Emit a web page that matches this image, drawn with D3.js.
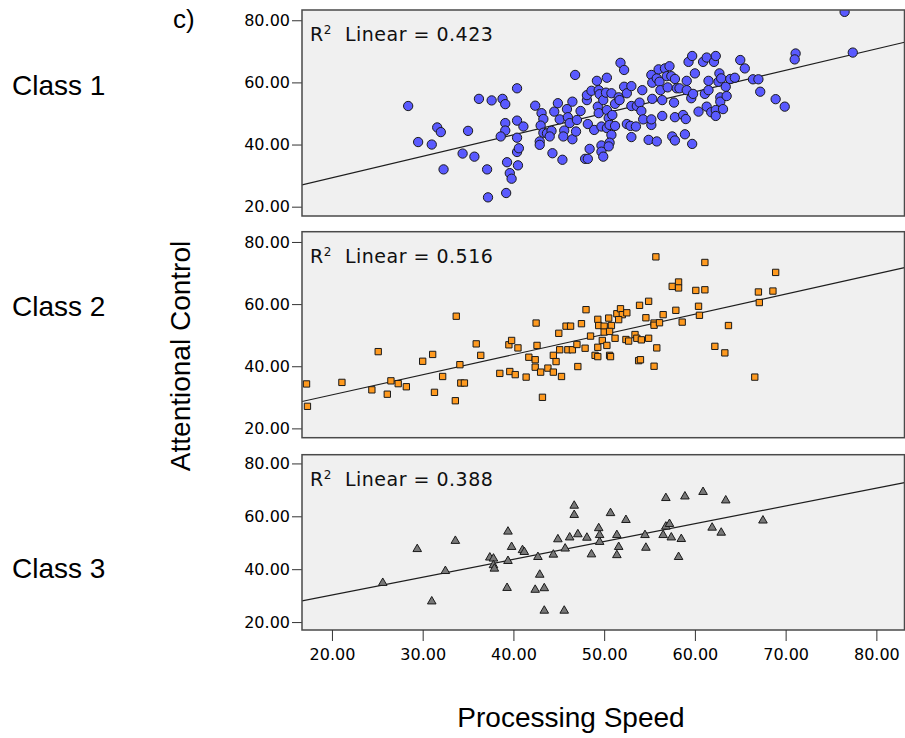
<!DOCTYPE html>
<html>
<head>
<meta charset="utf-8">
<script src="https://cdnjs.cloudflare.com/ajax/libs/d3/7.8.5/d3.min.js"></script>
<style>
	body { margin: 0; background: #fff; }
	svg { display: block; }
	.tick text { font-family: 'DejaVu Sans', sans-serif; font-size: 16px; fill: #000; }
	.tick line { stroke: #333; }
	.title { font-family: 'Liberation Sans', Arial, sans-serif; font-size: 28px; fill: #000; }
	.fit-label { font-family: 'DejaVu Sans', sans-serif; font-size: 19px; fill: #111; white-space: pre; letter-spacing: 0.5px; }
</style>
</head>
<body>
<svg id="chart" width="905" height="738"></svg>
<script>
// [processing speed, attentional control] per case
var class1 = [
	[28.4,52.4],[29.5,40.8],[31.0,40.0],[31.6,45.5],[32.0,44.0],[32.3,32.0],[35.0,44.4],[34.4,37.1],
	[35.7,36.1],[36.2,54.7],[37.1,32.0],[37.2,23.0],[37.6,54.2],[38.8,54.7],[39.1,53.0],[39.1,46.9],
	[39.1,44.5],[38.6,42.6],[39.3,34.3],[39.6,30.8],[39.8,29.0],[39.2,24.4],[40.4,58.1],[40.4,47.7],
	[40.4,42.2],[40.4,37.6],[40.5,33.3],[40.6,38.8],[41.1,45.8],
	[42.4,52.5],[43.1,50.1],[43.3,48.2],[43.0,46.1],[43.3,43.8],[42.9,41.0],[42.9,39.9],[43.7,43.6],
	[44.2,44.4],[44.0,42.6],[44.3,37.2],[45.4,35.1],[44.5,50.6],[44.9,53.3],[45.1,48.1],[45.6,44.5],
	[45.5,42.6],[45.9,51.4],[46.0,48.8],[46.2,46.9],[46.5,53.8],[46.5,41.7],[46.9,44.2],[46.8,62.4],
	[47.4,50.8],[47.0,47.9],[47.9,35.4],[48.2,35.4],[48.2,46.6],[48.1,54.3],[48.1,55.9],[48.4,38.6],
	[48.6,57.3],[48.9,44.7],[49.2,60.5],[49.4,57.5],[49.3,52.2],[49.4,50.1],[49.5,56.2],[49.7,39.7],
	[49.7,37.7],[49.9,36.1],[49.7,45.8],[49.9,54.3],[50.3,61.5],[50.2,56.7],[50.3,51.1],[50.5,48.5],
	[50.3,45.3],[50.6,46.3],[50.8,43.1],[50.6,40.6],[50.5,39.4],[50.8,56.5],[50.9,49.5],[51.2,46.0],
	[51.2,53.1],[51.6,55.2],[51.7,54.3],[51.8,66.3],[52.2,64.0],[52.2,58.6],[52.5,56.5],[53.0,58.8],
	[52.5,46.6],[52.9,46.0],[53.0,42.4],[53.0,52.4],[53.5,45.8],[53.6,52.4],[53.9,53.5],[54.2,57.5],
	[54.1,50.8],[54.3,48.1],[54.9,41.5],[55.2,46.3],[55.2,48.1],[55.3,54.7],[55.2,62.4],[55.3,59.9],
	[55.8,41.0],[55.8,61.3],[56.0,64.2],[56.1,60.2],[56.2,57.5],[56.4,54.3],[56.4,49.2],[56.7,64.5],
	[56.9,62.0],[57.0,58.4],[57.2,65.2],[57.4,62.0],[57.5,42.6],[57.8,41.3],[57.7,53.5],[57.8,48.8],
	[57.8,61.1],[58.0,58.1],[58.3,58.1],[58.7,49.5],[59.0,48.2],[58.9,43.3],[59.1,60.5],[59.1,57.5],
	[59.3,66.6],[59.7,68.5],[59.7,40.2],[59.6,54.9],[59.8,56.3],[60.0,62.9],[60.4,50.6],
	[60.9,66.6],[61.3,68.0],[62.1,66.6],[62.3,68.5],[61.5,60.5],[61.1,56.3],[61.5,57.5],[61.3,52.2],
	[61.8,50.4],[62.3,51.1],[62.3,49.2],[62.6,60.2],[62.7,62.9],[62.9,61.3],[62.8,55.2],[62.8,53.8],
	[63.1,51.4],[63.4,58.6],[63.5,55.6],[63.9,61.1],[64.4,61.5],[65.0,67.2],[65.5,64.5],[66.4,61.0],
	[67.0,61.0],[67.2,57.0],[68.9,54.6],[69.9,52.2],[71.1,69.3],[71.0,67.4],[76.5,82.7],[77.4,69.6]
];
var class2 = [
	[17.2,34.3],[17.3,27.1],[21.1,34.8],[24.4,32.4],[25.1,44.7],[26.1,31.0],[26.5,35.3],[27.3,34.4],
	[28.2,33.4],[30.0,41.6],[31.1,43.8],[31.3,31.6],[32.2,36.7],[33.6,28.9],[33.7,56.1],[34.1,40.5],
	[34.2,34.6],[34.6,34.6],[35.9,47.2],[36.4,43.5],[38.5,37.7],[39.5,46.9],[39.8,48.3],[40.5,45.9],
	[39.6,38.3],[40.2,37.3],[41.4,36.5],[41.7,42.9],[42.4,42.1],[42.5,53.9],[42.6,46.7],[42.4,39.7],
	[43.0,38.1],[43.2,30.0],[43.8,39.4],[44.4,38.1],[44.4,43.5],[44.7,41.5],[45.0,50.6],[45.1,45.3],
	[45.3,36.7],[45.8,52.9],[46.3,52.9],[46.0,45.3],[46.5,45.3],[47.0,47.0],[47.1,39.9],[47.5,53.7],
	[48.0,58.2],[47.9,45.8],[48.5,49.7],[49.0,43.5],[49.3,55.1],[49.4,53.1],[49.3,46.1],[49.3,43.1],
	[50.0,52.9],[50.5,55.5],[50.8,53.1],[50.0,51.0],[50.6,51.2],[49.8,48.3],[51.2,49.0],[50.3,46.7],
	[50.6,43.5],[50.7,43.1],[51.4,56.9],[51.8,58.5],[52.0,56.6],[52.5,57.2],[51.6,55.0],[52.4,48.6],
	[52.7,48.1],[53.4,50.2],[53.6,49.0],[54.1,48.5],[54.9,49.0],[53.8,41.8],[54.0,42.1],[53.9,59.6],
	[54.9,60.9],[54.6,55.6],[55.5,53.9],[55.5,53.2],[56.1,54.0],[56.5,56.6],[55.8,45.9],[55.5,40.0],
	[55.7,75.2],[57.5,65.7],[58.2,67.1],[58.2,65.2],[57.9,58.0],[58.6,54.2],[60.1,64.4],[61.1,64.6],
	[61.1,73.4],[60.4,59.3],[60.5,56.4],[63.7,53.1],[62.2,46.4],[63.3,44.3],[66.6,36.5],[67.0,63.9],
	[67.1,60.5],[68.6,64.2],[68.9,70.2]
];
var class3 = [
	[25.6,34.8],[29.4,47.6],[31.0,27.8],[32.5,39.3],[33.6,50.7],[37.4,44.4],[37.8,44.0],[37.8,41.5],
	[37.9,40.2],[39.3,32.9],[39.4,54.2],[39.4,43.1],[39.8,48.4],[41.0,47.2],[41.2,46.5],[42.7,44.6],
	[42.9,37.9],[42.4,32.2],[43.4,32.8],[43.4,24.3],[44.4,45.5],[44.9,51.3],[45.6,24.3],[45.7,47.8],
	[46.2,52.0],[46.7,64.0],[46.7,60.5],[47.1,53.2],[48.1,51.9],[48.6,45.6],[49.4,55.5],[49.5,52.9],
	[49.5,50.3],[50.7,61.2],[51.4,52.9],[51.6,48.4],[51.4,45.3],[52.4,58.6],[54.5,52.9],[54.6,48.1],
	[56.5,52.9],[56.8,66.9],[56.8,56.1],[57.2,57.1],[57.4,52.0],[58.5,51.4],[58.2,44.6],[58.9,67.5],
	[60.9,69.2],[61.9,55.7],[62.9,53.8],[63.4,66.0],[67.5,58.4]
];

var classNames = ['Class 1', 'Class 2', 'Class 3'];
var rSquared = ['0.423', '0.516', '0.388'];
// fit lines as seen on the chart: [intercept, slope]
var fitLines = [[15.5, 0.691], [17.8, 0.649], [16.8, 0.673]];
var xTicks = [20, 30, 40, 50, 60, 70, 80];
var yTicks = [20, 40, 60, 80];
var xDomain = [16.7, 83.1];
var yDomain = [17, 83.3];

const ScatterPanels = {
	left: 302,
	right: 904.5,
	panels: [
		{ top: 10, bottom: 216, labelY: 95, symbol: d3.symbolCircle, size: 68, fill: '#5a5aff' },
		{ top: 231.7, bottom: 437.7, labelY: 316, symbol: d3.symbolSquare, size: 40, fill: '#ff9a1f' },
		{ top: 454.7, bottom: 630, labelY: 578, symbol: d3.symbolTriangle, size: 32, fill: '#787878' }
	],

	draw: function() {
		const self = this;
		var svg = d3.select('#chart');
		var data = [class1, class2, class3];
		var fmt = d3.format('.2f');

		var xScale = d3.scaleLinear()
			.domain(xDomain)
			.range([ self.left, self.right ]);

		self.panels.forEach(function(p, i) {
			var yScale = d3.scaleLinear()
				.domain(yDomain)
				.range([ p.bottom, p.top ]);

			var g = svg.append('g');

			g.append('clipPath').attr('id', 'clip' + i)
				.append('rect')
				.attr('x', self.left).attr('y', p.top)
				.attr('width', self.right - self.left).attr('height', p.bottom - p.top);

			g.append('rect')
				.attr('x', self.left).attr('y', p.top)
				.attr('width', self.right - self.left).attr('height', p.bottom - p.top)
				.style('fill', '#f0f0f0');

			// y axis
			g.append('g')
				.attr('transform', 'translate(' + self.left + ',0)')
				.call(d3.axisLeft(yScale).tickValues(yTicks).tickFormat(fmt).tickSize(10).tickPadding(2))
				.call(function(a) { a.select('.domain').remove(); });

			var marks = g.append('g').attr('clip-path', 'url(#clip' + i + ')');

			// fit line
			var line = d3.line()
				.x(function(d) { return xScale(d) })
				.y(function(d) { return yScale(fitLines[i][0] + fitLines[i][1] * d) });
			marks.append('path')
				.datum(xDomain)
				.attr('d', line)
				.style('fill', 'none')
				.style('stroke', '#1e1e1e')
				.style('stroke-width', 1.2);

			marks.selectAll('.pt')
				.data(data[i])
				.enter().append('path')
				.attr('class', 'pt')
				.attr('transform', function(d) { return 'translate(' + xScale(d[0]) + ',' + yScale(d[1]) + ')' })
				.attr('d', d3.symbol().type(p.symbol).size(p.size))
				.style('fill', p.fill)
				.style('stroke', '#1a1a1a')
				.style('stroke-width', 1);

			g.append('rect')
				.attr('x', self.left).attr('y', p.top)
				.attr('width', self.right - self.left).attr('height', p.bottom - p.top)
				.style('fill', 'none')
				.style('stroke', '#4a4a4a')
				.style('stroke-width', 1.5);

			// R² label
			var t = g.append('text')
				.attr('class', 'fit-label')
				.attr('x', 310)
				.attr('y', p.top + 31);
			t.append('tspan').text('R');
			t.append('tspan').attr('dy', -7).style('font-size', '12px').text('2');
			t.append('tspan').attr('dy', 7).text('  Linear = ' + rSquared[i]);

			g.append('text')
				.attr('class', 'title')
				.attr('x', 12)
				.attr('y', p.labelY)
				.text(classNames[i]);
		});

		// x axis under the last panel
		var last = self.panels[self.panels.length - 1];
		svg.append('g')
			.attr('transform', 'translate(0,' + last.bottom + ')')
			.call(d3.axisBottom(xScale).tickValues(xTicks).tickFormat(fmt).tickSize(11).tickPadding(8))
			.call(function(a) { a.select('.domain').remove(); });

		svg.append('text')
			.attr('class', 'title')
			.attr('x', 571)
			.attr('y', 727)
			.attr('text-anchor', 'middle')
			.text('Processing Speed');

		svg.append('text')
			.attr('class', 'title')
			.attr('transform', 'translate(190,356) rotate(-90)')
			.attr('text-anchor', 'middle')
			.text('Attentional Control');

		svg.append('text')
			.attr('class', 'title')
			.style('font-size', '26px')
			.attr('x', 173)
			.attr('y', 28)
			.text('c)');
	}
};

ScatterPanels.draw();
</script>
</body>
</html>
